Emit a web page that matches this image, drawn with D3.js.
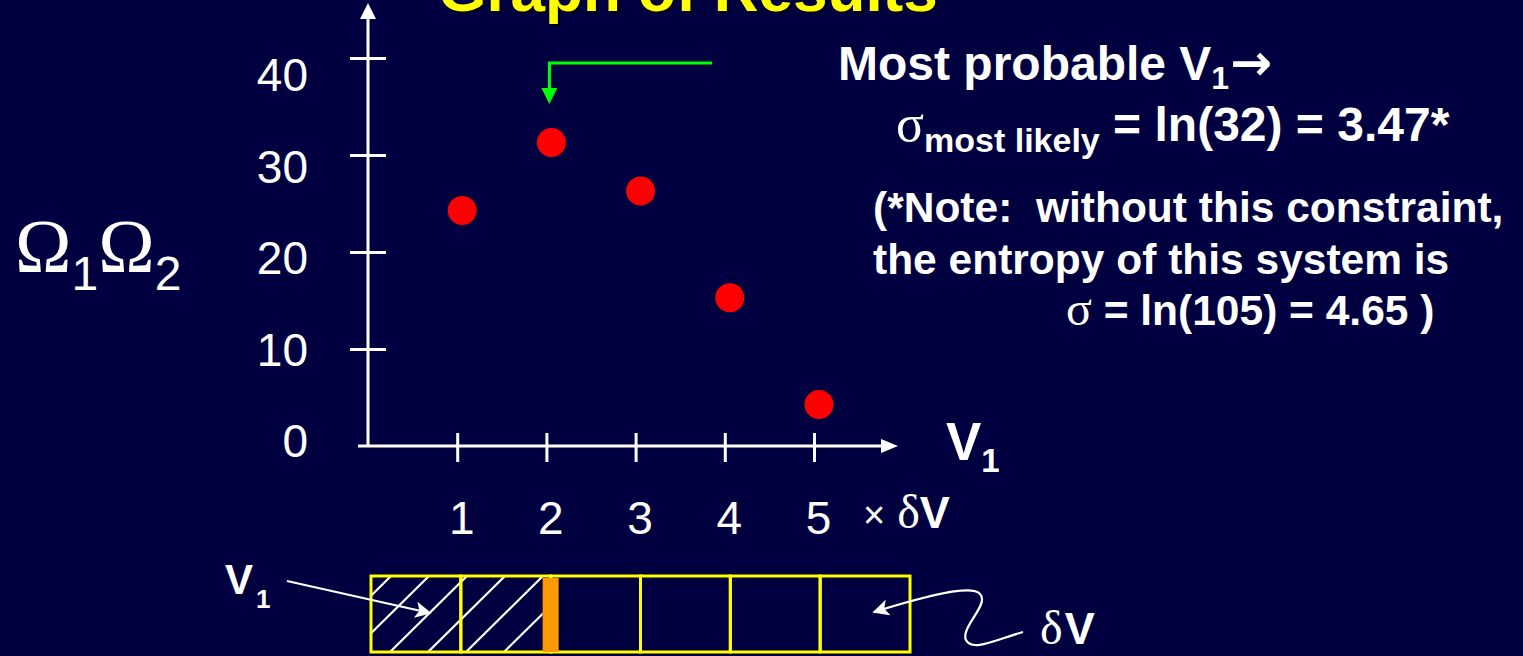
<!DOCTYPE html>
<html>
<head>
<meta charset="utf-8">
<script src="https://cdn.jsdelivr.net/npm/d3@7/dist/d3.min.js"></script>
<style>
  html, body { margin: 0; padding: 0; background: #000040; }
  svg { display: block; }
  text { white-space: pre; }
</style>
</head>
<body>
<svg id="chart" width="1523" height="656"></svg>
<script>
// ---- data ----
const categories = [1, 2, 3, 4, 5];          // V1 in units of δV
const values = [25, 32, 27, 16, 5];           // Ω1Ω2
const yTicks = [0, 10, 20, 30, 40];
const xTickLabels = ["1", "2", "3", "4", "5"];
const cells = [0, 1, 2, 3, 4, 5];             // δV cells in the box
const v1Cells = 2;                             // most probable V1 partition
const titleText = "Graph of Results";

const SANS = "'Liberation Sans', Arial, Helvetica, sans-serif";
const SERIF = "'Liberation Serif', 'Times New Roman', serif";
const WHITE = "#ffffff";

const svg = d3.select("#chart");
svg.append("rect").attr("width", 1523).attr("height", 656).attr("fill", "#000040");

const defs = svg.append("defs");
defs.append("marker").attr("id", "whiteHead").attr("viewBox", "0 0 10 10")
  .attr("refX", 9).attr("refY", 5).attr("markerWidth", 7.5).attr("markerHeight", 7.5)
  .attr("markerUnits", "strokeWidth").attr("orient", "auto")
  .append("path").attr("d", "M0,0 L10,5 L0,10 L2.5,5 Z").attr("fill", WHITE);

// ---- scales ----
const x = d3.scaleLinear().domain([0, 5]).range([368, 814]);
const y = d3.scaleLinear().domain([0, 40]).range([446, 58]);
const yLabel = d3.scaleLinear().domain([0, 40]).range([440, 74]);
const cellX = d3.scaleLinear().domain([0, 6]).range([371, 910]);

// ---- title (cut off at the top, as in the original slide) ----
const title = svg.append("g");
title.append("text").attr("x", 690).attr("y", 13).attr("text-anchor", "middle")
  .attr("font-family", SANS).attr("font-weight", "bold").attr("font-size", 62)
  .attr("fill", "#000000").text(titleText);
title.append("text").attr("x", 688).attr("y", 11).attr("text-anchor", "middle")
  .attr("font-family", SANS).attr("font-weight", "bold").attr("font-size", 62)
  .attr("fill", "#ffff00").text(titleText);

// ---- axes ----
const axisG = svg.append("g");
axisG.append("line").attr("x1", x(0)).attr("x2", x(0)).attr("y1", y(0)).attr("y2", 16)
  .attr("stroke", WHITE).attr("stroke-width", 3);
axisG.append("path")
  .attr("d", `M${x(0)},3 L${x(0) + 8},19 L${x(0) - 8},19 Z`).attr("fill", WHITE);
axisG.append("line").attr("x1", x(0) - 10).attr("x2", 884).attr("y1", y(0)).attr("y2", y(0))
  .attr("stroke", WHITE).attr("stroke-width", 3);
axisG.append("path")
  .attr("d", `M898,${y(0)} L881,${y(0) - 7} L881,${y(0) + 7} Z`).attr("fill", WHITE);

// y ticks (both sides of the axis)
const yAxis = axisG.append("g").attr("transform", `translate(${x(0)},0)`)
  .call(d3.axisLeft(y).tickValues(yTicks.filter(d => d > 0)).tickSize(18).tickFormat(""));
yAxis.select(".domain").remove();
yAxis.selectAll(".tick line").attr("x1", 18).attr("stroke", WHITE).attr("stroke-width", 3);

// y tick labels
const yLab = svg.append("g").attr("transform", "translate(308,0)")
  .call(d3.axisLeft(yLabel).tickValues(yTicks).tickSize(0).tickPadding(0));
yLab.select(".domain").remove();
yLab.selectAll(".tick text").attr("font-family", SANS).attr("font-size", 46)
  .attr("fill", WHITE).attr("dy", "0.36em").attr("x", 0);

// x ticks
const xAxis = axisG.append("g").attr("transform", `translate(0,${y(0)})`)
  .call(d3.axisBottom(x).tickValues(categories).tickSize(16).tickFormat(""));
xAxis.select(".domain").remove();
xAxis.selectAll(".tick line").attr("y1", -13).attr("stroke", WHITE).attr("stroke-width", 3);

// x tick labels
const xLab = svg.append("g").attr("transform", "translate(4,534)")
  .call(d3.axisBottom(x).tickValues(categories).tickSize(0).tickPadding(0)
    .tickFormat((d, i) => xTickLabels[i]));
xLab.select(".domain").remove();
xLab.selectAll(".tick text").attr("font-family", SANS).attr("font-size", 46)
  .attr("fill", WHITE).attr("dy", 0).attr("y", 0);

// "× δV"
const unit = svg.append("text").attr("x", 863).attr("y", 528).attr("fill", WHITE);
unit.append("tspan").attr("font-family", SANS).attr("font-size", 38).text("×");
unit.append("tspan").attr("font-family", SERIF).attr("font-size", 48).attr("dx", 12).text("δ");
unit.append("tspan").attr("font-family", SANS).attr("font-weight", "bold").attr("font-size", 45).text("V");

// axis label V1
const v1 = svg.append("text").attr("x", 946).attr("y", 460).attr("fill", WHITE)
  .attr("font-family", SANS).attr("font-weight", "bold");
v1.append("tspan").attr("font-size", 53).text("V");
v1.append("tspan").attr("font-size", 33).attr("dy", 12).text("1");

// y label Ω1Ω2
const om = svg.append("text").attr("x", 15).attr("y", 272).attr("fill", WHITE);
om.append("tspan").attr("font-family", SERIF).attr("font-size", 76).text("Ω");
om.append("tspan").attr("font-family", SANS).attr("font-size", 48).attr("dy", 18).text("1");
om.append("tspan").attr("font-family", SERIF).attr("font-size", 76).attr("dy", -18).text("Ω");
om.append("tspan").attr("font-family", SANS).attr("font-size", 48).attr("dy", 18).text("2");

// ---- data points ----
svg.append("g").attr("transform", "translate(5,7)")
  .selectAll("circle").data(categories).join("circle")
  .attr("cx", d => x(d)).attr("cy", (d, i) => y(values[i])).attr("r", 14.5)
  .attr("fill", "#ff0000");

// ---- green arrow to the most probable point ----
const best = categories[values.indexOf(d3.max(values))];
const gx = x(best) + 3;
svg.append("path").attr("d", `M712,63 H${gx} V90`).attr("fill", "none")
  .attr("stroke", "#00ff00").attr("stroke-width", 3);
svg.append("path").attr("d", `M${gx - 8},88 L${gx + 8},88 L${gx},104 Z`).attr("fill", "#00ff00");

// ---- right text block ----
const tb = svg.append("g").attr("fill", WHITE).attr("font-family", SANS).attr("font-weight", "bold");
const l1 = tb.append("text").attr("x", 838).attr("y", 80);
l1.append("tspan").attr("font-size", 48).text("Most probable V");
l1.append("tspan").attr("font-size", 32).attr("dy", 9).text("1");
l1.append("tspan").attr("font-family", "'DejaVu Sans', sans-serif").attr("font-size", 50)
  .attr("dy", -9).attr("dx", 1).text("→");

const l2 = tb.append("text").attr("x", 896).attr("y", 141);
l2.append("tspan").attr("font-family", SERIF).attr("font-weight", "normal").attr("font-size", 52).text("σ");
l2.append("tspan").attr("font-size", 34).attr("dy", 11).text("most likely");
l2.append("tspan").attr("font-size", 48).attr("dy", -11).text(" = ln(32) = 3.47*");

tb.append("text").attr("x", 873).attr("y", 222).attr("font-size", 42.5)
  .text("(*Note:  without this constraint,");
tb.append("text").attr("x", 873).attr("y", 274).attr("font-size", 42.5)
  .text("the entropy of this system is");
const l5 = tb.append("text").attr("x", 1066).attr("y", 325).attr("font-size", 42.5);
l5.append("tspan").attr("font-family", SERIF).attr("font-weight", "normal").attr("font-size", 48).text("σ");
l5.append("tspan").text(" = ln(105) = 4.65 )");

// ---- volume box ----
const box = svg.append("g");
const boxTop = 576, boxBot = 652;
defs.append("clipPath").attr("id", "hatchClip").append("rect")
  .attr("x", cellX(0)).attr("y", boxTop).attr("width", cellX(v1Cells) - 8 - cellX(0))
  .attr("height", boxBot - boxTop);
const hatchOffsets = d3.range(0, 6);
box.append("g").attr("clip-path", "url(#hatchClip)")
  .selectAll("line").data(hatchOffsets).join("line")
  .attr("x1", d => cellX(0) - 77 + 38 * d + 20).attr("y1", boxBot)
  .attr("x2", d => cellX(0) + 38 * d + 20).attr("y2", boxTop)
  .attr("stroke", WHITE).attr("stroke-width", 2.2);
box.selectAll("rect.cell").data(cells).join("rect").attr("class", "cell")
  .attr("x", d => cellX(d)).attr("y", boxTop)
  .attr("width", d => cellX(d + 1) - cellX(d)).attr("height", boxBot - boxTop)
  .attr("fill", "none").attr("stroke", "#ffff00").attr("stroke-width", 3);
box.append("rect").attr("x", cellX(v1Cells) - 8).attr("y", boxTop + 2)
  .attr("width", 16).attr("height", boxBot - boxTop - 2).attr("fill", "#ff9900");

// V1 label with arrow into the box
const bv = svg.append("text").attr("x", 225).attr("y", 594).attr("fill", WHITE)
  .attr("font-family", SANS).attr("font-weight", "bold");
bv.append("tspan").attr("font-size", 42).text("V");
bv.append("tspan").attr("font-size", 26).attr("dy", 14).attr("dx", 3).text("1");
svg.append("line").attr("x1", 287).attr("y1", 581).attr("x2", 430).attr("y2", 613)
  .attr("stroke", WHITE).attr("stroke-width", 2.2).attr("marker-end", "url(#whiteHead)");

// δV label with curly arrow
svg.append("path")
  .attr("d", "M1023,632 C995,640 972,652 966,640 C960,628 990,604 980,594 C972,584 925,596 874,612")
  .attr("fill", "none").attr("stroke", WHITE).attr("stroke-width", 2.2)
  .attr("marker-end", "url(#whiteHead)");
const dv = svg.append("text").attr("x", 1040).attr("y", 644).attr("fill", WHITE);
dv.append("tspan").attr("font-family", SERIF).attr("font-size", 48).text("δ");
dv.append("tspan").attr("font-family", SANS).attr("font-weight", "bold").attr("font-size", 45).attr("dx", 2).text("V");
</script>
</body>
</html>
